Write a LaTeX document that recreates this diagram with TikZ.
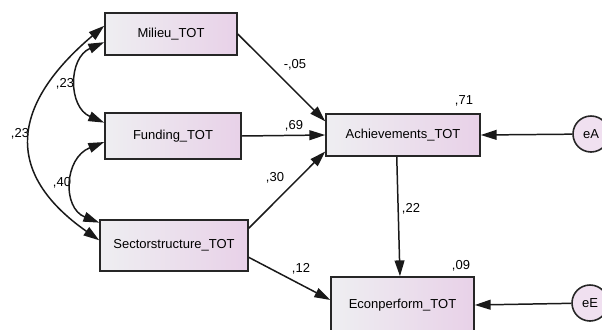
\documentclass[tikz,border=0pt]{standalone}
\usepackage{fontspec}
\setmainfont{Liberation Sans}
\usetikzlibrary{arrows.meta}

\begin{document}
\begin{tikzpicture}[x=0.2mm,y=-0.2mm,>={Triangle[length=9pt,width=5.6pt]},
var/.style ={rectangle, draw=black!85, line width=0.9pt, left color=blue!10!gray!12, right color=violet!18, align=center, inner sep=0pt, font=\fontsize{7.4}{9}\selectfont},
err/.style={circle, draw=black!85, line width=0.9pt, fill=violet!12, minimum size=7.2mm, inner sep=0pt, font=\fontsize{7.4}{9}\selectfont},
est/.style={inner sep=0pt, font=\fontsize{7.4}{9}\selectfont},
path/.style={->, line width=0.85pt, black!90},
cov/.style={<->, line width=0.85pt, black!90}]

\useasboundingbox (0,0) rectangle (602,329);
\clip (0,0) rectangle (602,329);

\draw (171,34) node[var, minimum width=26.4mm, minimum height=8.4mm] (Mil) {Milieu\_TOT};
\draw (173,136) node[var, minimum width=27.2mm, minimum height=9.2mm] (Fund) {Funding\_TOT};
\draw (174,245.5) node[var, minimum width=29.6mm, minimum height=10.2mm] (Sect) {Sectorstructure\_TOT};
\draw (403,135) node[var, minimum width=30.8mm, minimum height=8.4mm] (Ach) {Achievements\_TOT};
\draw (402.5,305) node[var, minimum width=28.6mm, minimum height=11.2mm] (Econ) {Econperform\_TOT};
\draw (591,134) node[err] (eA) {eA};
\draw (590,303) node[err] (eE) {eE};

\draw (295,65) node[est] (wMA) {-,05};
\draw (294,126) node[est] (wFA) {,69};
\draw (275,178) node[est] (wSA) {,30};
\draw (301,269) node[est] (wSE) {,12};
\draw (411,209) node[est] (wAE) {,22};
\draw (464,101) node[est] (rA) {,71};
\draw (461,266) node[est] (rE) {,09};
\draw (65,84) node[est] (cMF) {,23};
\draw (20,134) node[est] (cMS) {,23};
\draw (62,183) node[est] (cFS) {,40};

\draw[path] (Mil.east)--(Ach.170);
\draw[path] (Fund.east)--(Ach.west);
\draw[path] (Sect.13)--(Ach.192);
\draw[path] (Sect.-9)--(Econ.176);
\draw[path] (Ach.254)--(Econ.95);
\draw[path] (eA)--(Ach.east);
\draw[path] (eE)--(Econ.east);

\draw[cov] (Mil.173) .. controls (12,104) and (2,172) .. (Sect.176);
\draw[cov] (Mil.-173) .. controls (68,58) and (68,107) .. (Fund.169);
\draw[cov] (Fund.-175) .. controls (64,158) and (62,208) .. (Sect.163);

\end{tikzpicture}
\end{document}
